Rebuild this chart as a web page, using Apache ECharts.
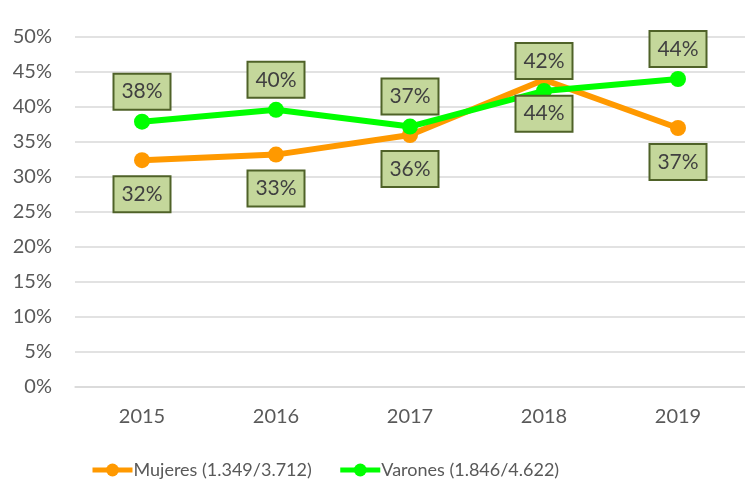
<!DOCTYPE html>
<html>
<head>
<meta charset="utf-8">
<script src="https://cdn.jsdelivr.net/npm/echarts@6/dist/echarts.min.js"></script>
<style>html,body{margin:0;padding:0;background:#fff}#c{width:745px;height:485px}</style>
</head>
<body>
<div id="c"></div>
<script>
const categories = ['2015', '2016', '2017', '2018', '2019'];
const mujeres = [32.4, 33.2, 36.0, 43.9, 37.0];
const varones = [37.9, 39.6, 37.2, 42.3, 44.0];
const seriesNames = ['Mujeres (1.349/3.712)', 'Varones (1.846/4.622)'];
const yTicks = { min: 0, max: 50, interval: 5 };

const FONT = 'Lato';
function labelCfg(pos, dist) {
  return {
    show: true,
    position: pos,
    distance: dist,
    formatter: p => Math.round(p.value) + '%',
    fontFamily: FONT,
    fontSize: 21,
    color: '#404040',
    backgroundColor: '#c4d79b',
    borderColor: '#4f6228',
    borderWidth: 2,
    width: 55,
    height: 34,
    lineHeight: 34,
    align: 'center',
    verticalAlign: 'middle'
  };
}
const chart = echarts.init(document.getElementById('c'), null, { renderer: 'canvas' });
chart.setOption({
  animation: false,
  textStyle: { fontFamily: FONT },
  grid: { left: 75, right: -8, top: 37, bottom: 98, containLabel: false },
  legend: {
    data: seriesNames,
    left: 85,
    top: 456,
    itemWidth: 40,
    itemHeight: 16,
    itemGap: 26,
    lineStyle: { width: 5 },
    textStyle: { fontFamily: FONT, fontSize: 18, color: '#595959', padding: [0, 0, 0, -4] }
  },
  xAxis: {
    type: 'category',
    data: categories,
    boundaryGap: true,
    axisLine: { show: true, lineStyle: { color: '#d9d9d9', width: 1.5 } },
    axisTick: { show: false },
    axisLabel: { fontFamily: FONT, fontSize: 20, color: '#595959', margin: 20 }
  },
  yAxis: {
    type: 'value',
    min: yTicks.min,
    max: yTicks.max,
    interval: yTicks.interval,
    axisLine: { show: false },
    axisTick: { show: false },
    splitLine: { lineStyle: { color: '#d9d9d9', width: 1.5 } },
    axisLabel: { fontFamily: FONT, fontSize: 20, color: '#595959', margin: 23, formatter: '{value}%' }
  },
  series: [
    {
      name: seriesNames[0],
      type: 'line',
      data: mujeres,
      color: '#ff9900',
      lineStyle: { width: 6, color: '#ff9900' },
      symbol: 'circle',
      symbolSize: 16,
      itemStyle: { color: '#ff9900' },
      label: labelCfg('bottom', 26)
    },
    {
      name: seriesNames[1],
      type: 'line',
      data: varones,
      color: '#00ff00',
      lineStyle: { width: 6, color: '#00ff00' },
      symbol: 'circle',
      symbolSize: 16,
      itemStyle: { color: '#00ff00' },
      label: labelCfg('top', 22)
    }
  ]
});
</script>
</body>
</html>
